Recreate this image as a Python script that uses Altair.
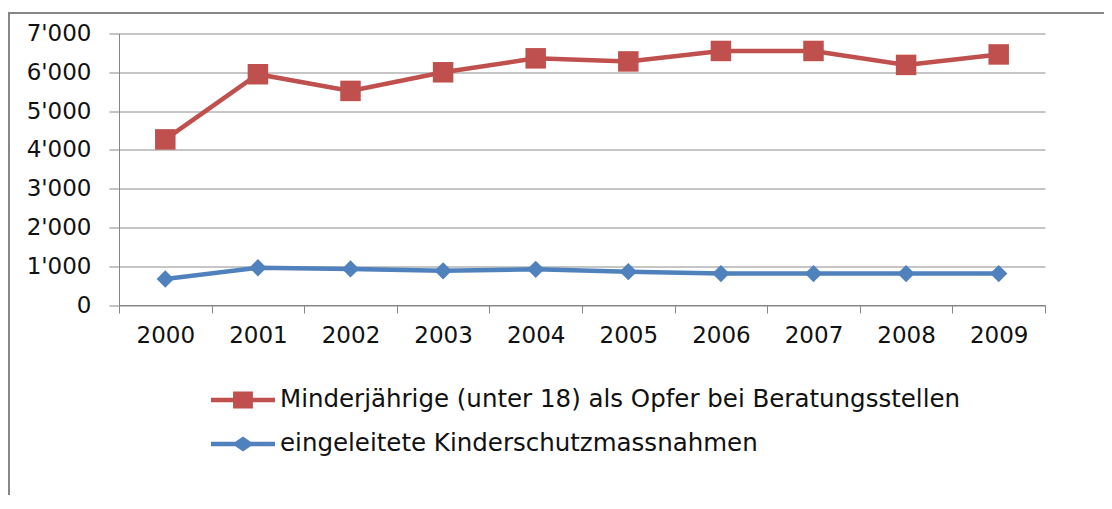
import altair as alt
import pandas as pd

years = ["2000", "2001", "2002", "2003", "2004", "2005", "2006", "2007", "2008", "2009"]
red_vals = [4270, 5950, 5520, 6000, 6360, 6280, 6550, 6550, 6190, 6460]
blue_vals = [670, 960, 930, 880, 920, 860, 810, 810, 810, 810]
series = ["Minderjährige (unter 18) als Opfer bei Beratungsstellen",
          "eingeleitete Kinderschutzmassnahmen"]
colors = ["#C0504D", "#4F81BD"]
y_ticks = [0, 1000, 2000, 3000, 4000, 5000, 6000, 7000]

rows = []
for y, v in zip(years, red_vals):
    rows.append({"year": y, "series": series[0], "value": v})
for y, v in zip(years, blue_vals):
    rows.append({"year": y, "series": series[1], "value": v})
df = pd.DataFrame(rows)

# legend symbols: line with marker (unit r = sqrt(size)/2)
sq_path = "M-2,-0.14H-0.62V-0.53H0.62V-0.14H2V0.14H0.62V0.53H-0.62V0.14H-2Z"
dia_path = "M-2,-0.14H-0.48L0,-0.47L0.48,-0.14H2V0.14H0.48L0,0.47L-0.48,0.14H-2Z"

color_scale = alt.Scale(domain=series, range=colors)

AX_FONT = "DejaVu Sans"

x_enc = alt.X(
    "year:O",
    bandPosition=0.5,
    scale=alt.Scale(type="band", paddingInner=0, paddingOuter=0),
    axis=alt.Axis(title=None, tickBand="extent", labelAngle=0, tickSize=8,
                  labelPadding=11, domainColor="#868686", tickColor="#868686",
                  labelFont=AX_FONT, labelFontSize=23, labelColor="#111",
                  grid=False),
)
y_enc = alt.Y(
    "value:Q",
    scale=alt.Scale(domain=[0, 7000], nice=False),
    axis=alt.Axis(title=None, values=y_ticks, tickSize=10, labelPadding=18,
                  domainColor="#868686", tickColor="#868686", gridColor="#8c8c8c",
                  gridWidth=1, labelFont=AX_FONT, labelFontSize=23, labelColor="#111",
                  labelExpr="replace(format(datum.value, ','), ',', \"'\")"),
)

base = alt.Chart(df)
red_base = base.transform_filter(alt.datum.series == series[0])
blue_base = base.transform_filter(alt.datum.series == series[1])

red_line = red_base.mark_line(strokeWidth=4.5, color=colors[0]).encode(x=x_enc, y=y_enc)
blue_line = blue_base.mark_line(strokeWidth=4.5, color=colors[1]).encode(x=x_enc, y=y_enc)

squares = red_base.mark_square(size=420, opacity=1, color=colors[0]).encode(x=x_enc, y=y_enc)
diamonds = blue_base.mark_point(shape="diamond", filled=True, size=300, opacity=1,
                                color=colors[1]).encode(x=x_enc, y=y_enc)

legend_kw = dict(
    title=None, orient="none", legendX=108, legendY=350.5, padding=0,
    symbolSize=1024, symbolOpacity=1, symbolStrokeWidth=0, rowPadding=16,
    labelOffset=21, labelFont=AX_FONT, labelFontSize=24.5, labelColor="#111",
    labelLimit=1000,
)

legend_layer = base.mark_point(filled=True, opacity=0).encode(
    x=x_enc, y=y_enc,
    color=alt.Color("series:N", scale=color_scale, legend=alt.Legend(**legend_kw)),
    shape=alt.Shape("series:N", scale=alt.Scale(domain=series, range=[sq_path, dia_path]),
                    legend=alt.Legend(**legend_kw)),
)

border = alt.Chart(pd.DataFrame({"a": [0]})).mark_rect(
    fill="transparent", stroke="#868686", strokeWidth=2).encode(
    x=alt.value(-110), x2=alt.value(2000), y=alt.value(-20.5), y2=alt.value(2000),
)

chart = alt.layer(border, red_line, blue_line, squares, diamonds, legend_layer).properties(
    width=926, height=271.5,
    autosize=alt.AutoSizeParams(type="none"),
    padding={"left": 111, "top": 25.5, "right": 59, "bottom": 190},
).configure_view(stroke=None)

chart.save("out.html", embed_options={"renderer": "svg", "actions": False})
